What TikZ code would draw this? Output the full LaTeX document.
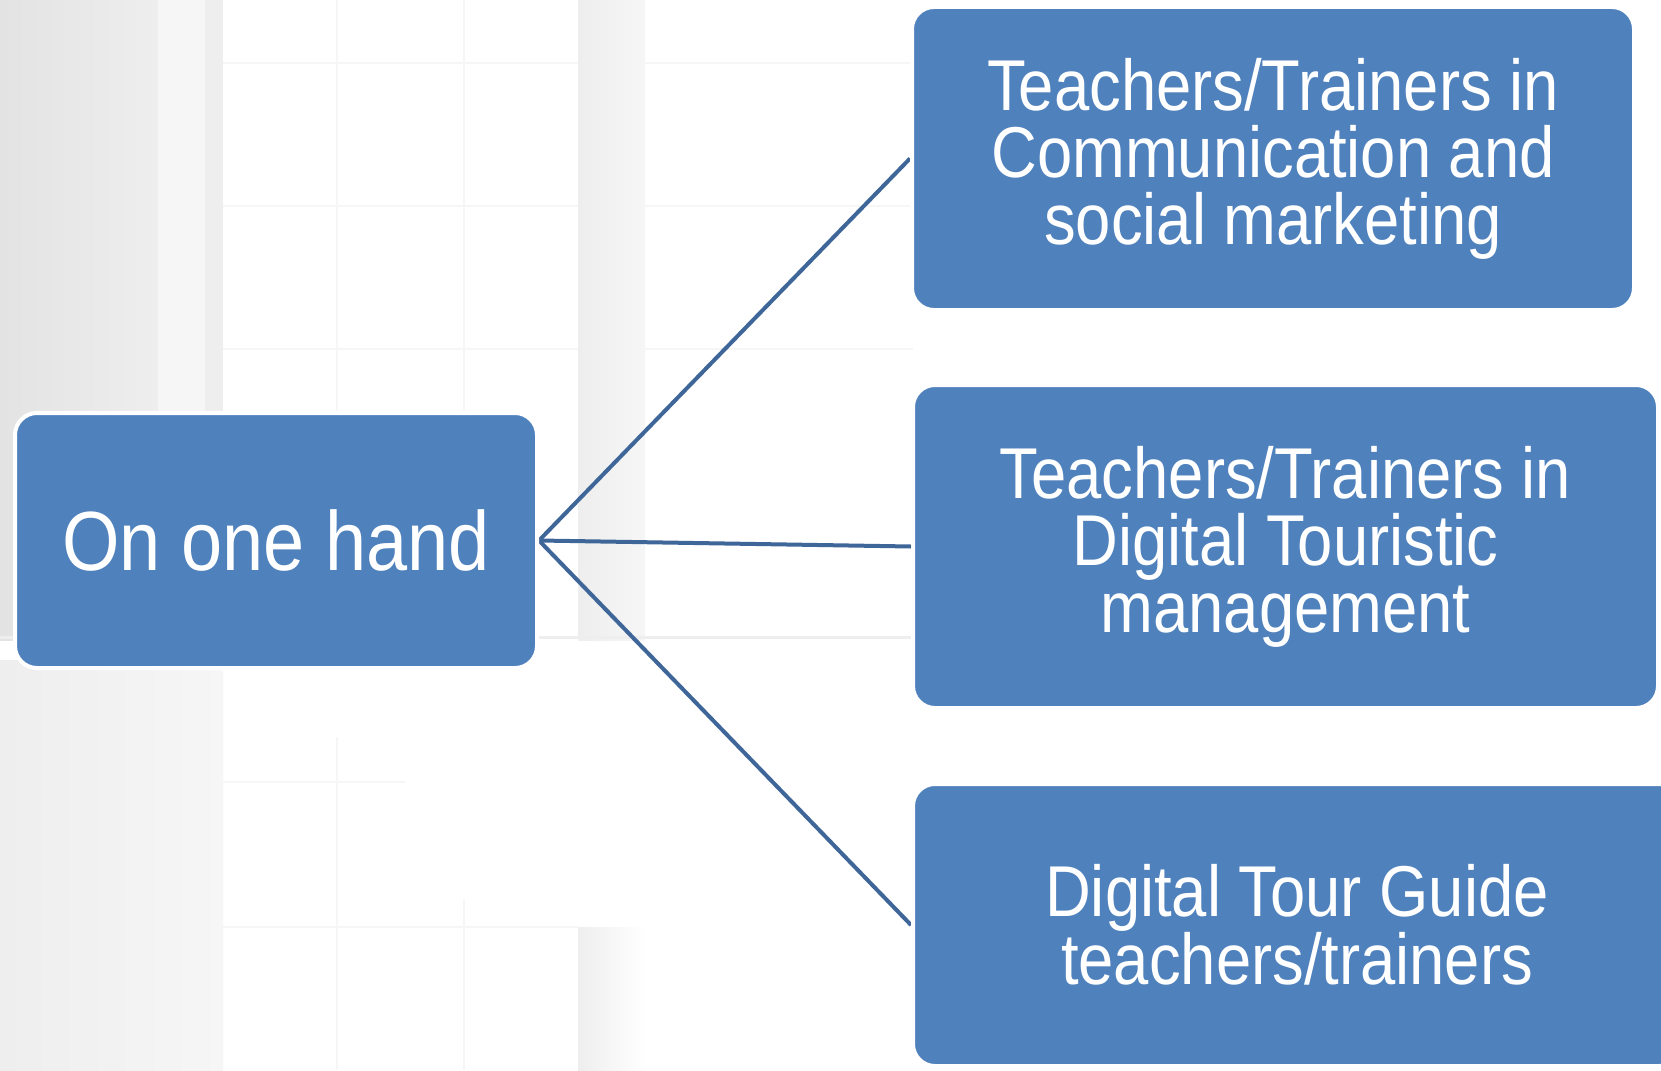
\documentclass[tikz,border=0pt]{standalone}
\usepackage{fontspec}
\setmainfont{Liberation Sans}[FakeStretch=0.88]
\usetikzlibrary{backgrounds}
\definecolor{boxblue}{HTML}{4F81BD}
\definecolor{linkblue}{HTML}{3F6699}
\definecolor{bgA}{HTML}{E3E3E3}
\definecolor{bgB}{HTML}{F6F6F6}
\definecolor{bgC}{HTML}{EEEEEE}
\definecolor{bgL}{HTML}{F6F6F6}
\begin{document}
\begin{tikzpicture}[x=1pt,y=-1pt,
  box/.style={draw=white, line width=4pt, fill=boxblue, rounded corners=22pt,
    text=white, align=center, inner sep=0pt, anchor=center},
  conn/.style={draw=linkblue, line width=4pt},
  paneline/.style={draw=bgL, line width=2.5pt}
  ]
\useasboundingbox (0,0) rectangle (1661,1070);

\node[box, minimum width=522pt, minimum height=255pt,
  font=\fontsize{84}{84}\selectfont] (hand) at (276,540.5) {On one hand};
\node[box, minimum width=722pt, minimum height=303pt,
  font=\fontsize{72}{67}\selectfont] (c1) at (1273,158.5)
  {Teachers/Trainers in\\Communication and\\social marketing};
\node[box, minimum width=745pt, minimum height=323pt,
  font=\fontsize{72}{67}\selectfont] (c2) at (1285.5,546.5)
  {Teachers/Trainers in\\Digital Touristic\\management};
\node[box, minimum width=768pt, minimum height=282pt,
  font=\fontsize{72}{67}\selectfont] (c3) at (1297,925)
  {Digital Tour Guide\\teachers/trainers};

\begin{scope}[on background layer]
  % faded window scene
  \fill[white] (0,0) rectangle (1661,1070);
  \shade[left color=bgA, right color=bgC] (0,0) rectangle (158,640);
  \fill[bgB] (158,0) rectangle (205,640);
  \fill[bgC] (205,0) rectangle (223,640);
  \shade[left color=bgC, right color=bgB] (578,0) rectangle (645,640);
  \draw[paneline] (223,63) -- (578,63) (645,63) -- (913,63);
  \draw[paneline] (223,206) -- (578,206) (645,206) -- (913,206);
  \draw[paneline] (223,349) -- (578,349) (645,349) -- (913,349);
  \draw[paneline] (337,0) -- (337,640) (464,0) -- (464,640);
  \draw[draw=bgC, line width=3pt] (0,637) -- (913,637);
  \shade[left color=bgC, right color=bgB] (0,660) rectangle (223,1070);
  \draw[paneline] (223,782) -- (405,782);
  \draw[paneline] (223,927) -- (578,927);
  \draw[paneline] (337,737) -- (337,1070) (464,900) -- (464,1070);
  \shade[left color=bgC, right color=white] (578,927) rectangle (645,1070);
  % connectors
  \draw[conn] (hand.east) -- (c1.west);
  \draw[conn] (hand.east) -- (c2.west);
  \draw[conn] (hand.east) -- (c3.west);
\end{scope}
\end{tikzpicture}
\end{document}
